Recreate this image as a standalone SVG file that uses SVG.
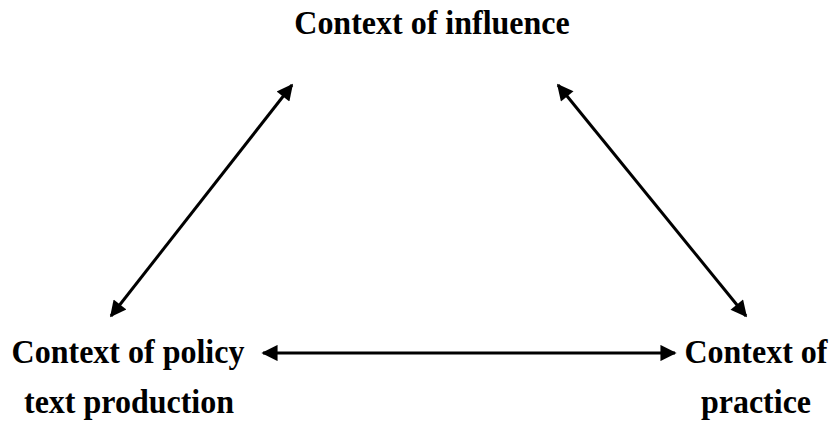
<svg xmlns="http://www.w3.org/2000/svg" width="835" height="425" viewBox="0 0 835 425">
<style>
.t{font-family:"Liberation Serif","Times New Roman",serif;font-weight:bold;font-size:32px;fill:#000;text-anchor:middle}
.c{stroke:#000;stroke-width:3;fill:none}
</style>
<defs>
<marker id="ah" viewBox="0 0 10 10" refX="9" refY="5" markerWidth="6.2" markerHeight="5.4" markerUnits="strokeWidth" orient="auto-start-reverse">
<path d="M0,0 L10,5 L0,10 Z" fill="#000"/>
</marker>
</defs>
<rect width="835" height="425" fill="#fff"/>
<g id="n-influence"><text class="t" transform="translate(432,34) scale(1,1.08)">Context of influence</text></g>
<g id="n-policy"><text class="t" transform="translate(128,363) scale(1,1.08)">Context of policy</text><text class="t" transform="translate(129,413) scale(1,1.08)">text production</text></g>
<g id="n-practice"><text class="t" transform="translate(756,363) scale(1,1.08)">Context of</text><text class="t" transform="translate(756,413) scale(1,1.08)">practice</text></g>
<g id="connectors">
<line class="c" x1="111" y1="316" x2="292" y2="85" marker-start="url(#ah)" marker-end="url(#ah)"/>
<line class="c" x1="558" y1="85" x2="746" y2="316" marker-start="url(#ah)" marker-end="url(#ah)"/>
<line class="c" x1="263" y1="353" x2="675" y2="353" marker-start="url(#ah)" marker-end="url(#ah)"/>
</g>
</svg>
